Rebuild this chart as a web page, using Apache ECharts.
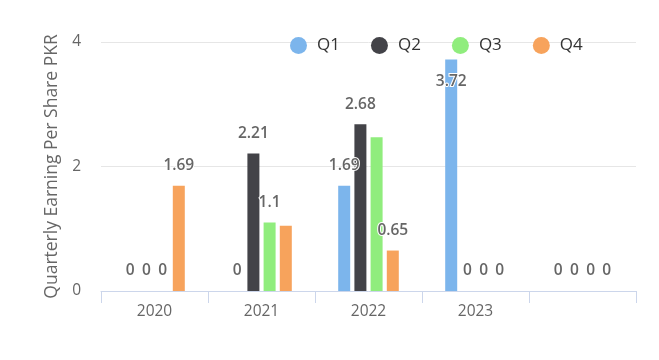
<!DOCTYPE html>
<html><head><meta charset="utf-8">
<script src="https://cdn.jsdelivr.net/npm/echarts@6/dist/echarts.min.js"></script>
<style>html,body{margin:0;padding:0;background:#fff}#c{width:659px;height:360px}</style>
</head><body><div id="c"></div>
<script>
var categories = ['2020', '2021', '2022', '2023', ''];
var q1 = [0, 0, 1.69, 3.72, 0];
var q2 = [0, 2.21, 2.68, 0, 0];
var q3 = [0, 1.1, 2.47, 0, 0];
var q4 = [1.69, 1.05, 0.65, 0, 0];
var seriesNames = ['Q1', 'Q2', 'Q3', 'Q4'];
var colors = ['#7cb5ec', '#434348', '#90ed7d', '#f7a35c'];
var yTicks = [0, 2, 4];

var font = '"Open Sans", sans-serif';
var chart = echarts.init(document.getElementById('c'));
function mk(name, vals, color) {
  return {
    name: name, type: 'bar', barWidth: 12, barGap: '35%',
    itemStyle: { color: color },
    data: vals.map(function (v) {
      return v > 3.5 ? { value: v, label: { position: 'insideTop', distance: 14 } } : v;
    }),
    label: {
      show: true, position: 'top', distance: 12,
      color: '#666', fontSize: 15.5, fontWeight: 600, fontFamily: font,
      textBorderColor: '#fff', textBorderWidth: 2
    },
    labelLayout: { hideOverlap: true }
  };
}
chart.setOption({
  animation: false,
  color: colors,
  legend: {
    left: 285, top: 32, itemWidth: 17, itemHeight: 17, itemGap: 31, icon: 'circle',
    textStyle: { fontSize: 17, color: '#333', fontFamily: font, padding: [0, 0, 0, 5] },
    data: seriesNames
  },
  grid: { left: 101, right: 23, top: 42, bottom: 69, containLabel: false },
  xAxis: {
    type: 'category', data: categories,
    axisLine: { lineStyle: { color: '#ccd6eb', width: 1 } },
    axisTick: { show: true, length: 12, lineStyle: { color: '#ccd6eb' } },
    axisLabel: { color: '#666', fontSize: 15.5, margin: 13, fontFamily: font }
  },
  yAxis: {
    type: 'value', min: yTicks[0], max: yTicks[yTicks.length - 1], interval: 2,
    name: 'Quarterly Earning Per Share PKR', nameLocation: 'middle', nameGap: 36,
    nameTextStyle: { color: '#666', fontSize: 17.5, fontFamily: font },
    axisLine: { show: false }, axisTick: { show: false },
    axisLabel: { color: '#666', fontSize: 15.5, margin: 20, fontFamily: font },
    splitLine: { lineStyle: { color: '#e6e6e6' } }
  },
  series: [mk('Q1', q1, colors[0]), mk('Q2', q2, colors[1]), mk('Q3', q3, colors[2]), mk('Q4', q4, colors[3])]
});
</script></body></html>
